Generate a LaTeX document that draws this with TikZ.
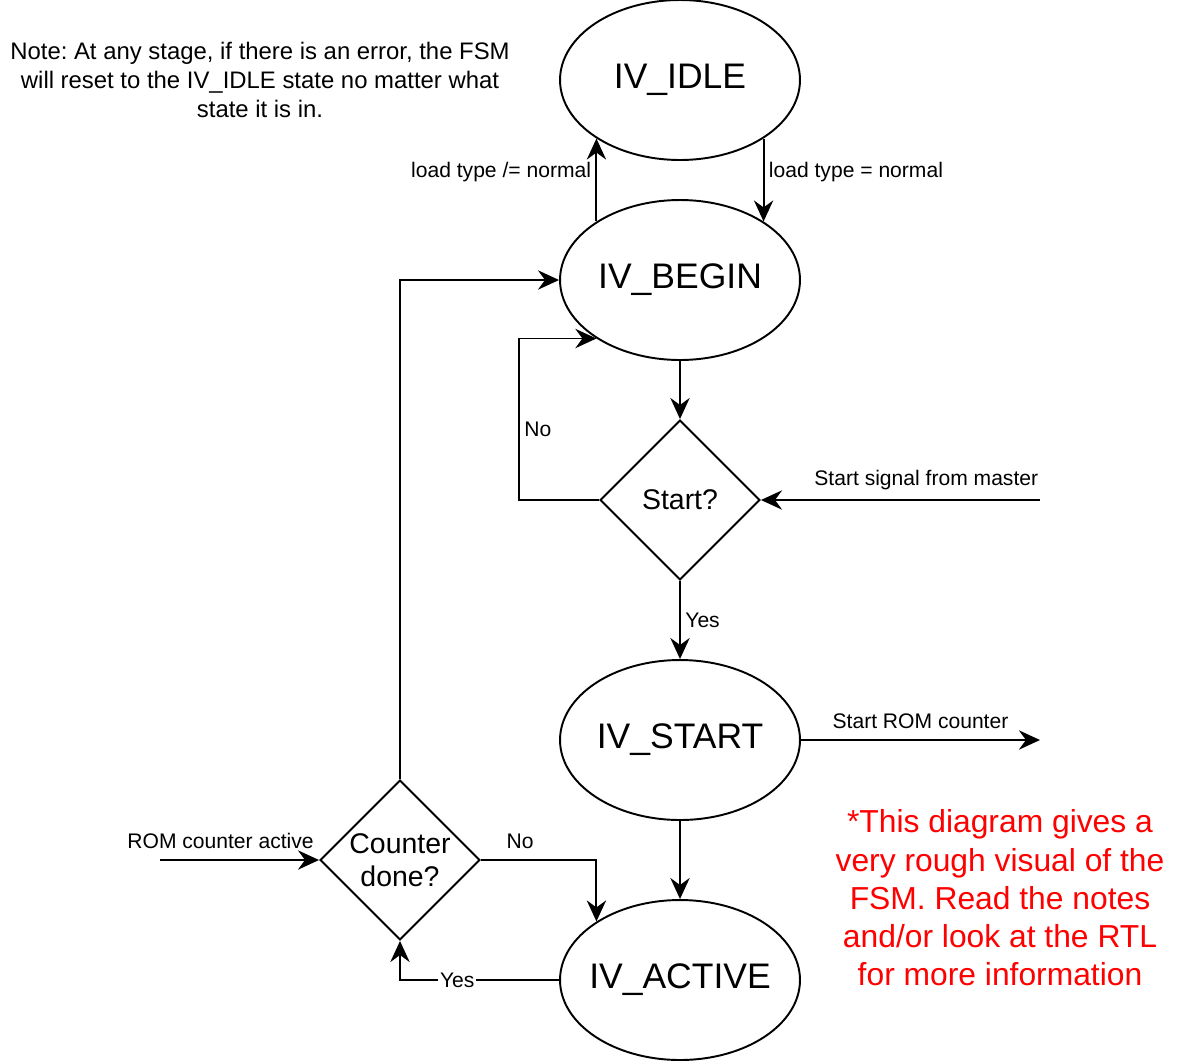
\documentclass[tikz,border=0pt]{standalone}
\usepackage{fontspec}
\setmainfont{Liberation Sans}
\usetikzlibrary{shapes.geometric,arrows.meta}
\frenchspacing

\begin{document}
\begin{tikzpicture}[x=0.02cm, y=-0.02cm, line width=1.1pt,
  state/.style={draw,ellipse,inner sep=0pt,inner xsep=-5pt,minimum width=4.8cm,minimum height=3.2cm,font=\fontsize{20.2}{24}\selectfont},
  decision/.style={draw,diamond,inner sep=0pt,minimum size=3.2cm,align=center,font=\fontsize{16.2}{18.7}\selectfont},
  lbl/.style={font=\fontsize{12}{14}\selectfont,inner sep=2.5pt},
  flow/.style={-{Stealth[length=12pt,width=11pt,inset=4pt]}}]
\useasboundingbox (0,0) rectangle (1182,1062);
\node[align=center,font=\fontsize{13.6}{16.4}\selectfont] (note) at (260,80) {Note: At any stage, if there is an error, the FSM\\will reset to the IV\_IDLE state no matter what\\state it is in.};
\node[state] (idle) at (680,80) {IV\_IDLE};
\node[state] (begin) at (680,280) {IV\_BEGIN};
\node[decision] (start) at (680,500) {Start?};
\node[state] (stbl) at (680,740) {IV\_START};
\node[state] (active) at (680,980) {IV\_ACTIVE};
\node[decision] (cnt) at (400,860) {Counter\\done?};
\node[align=center,text=red,font=\fontsize{18.1}{21.8}\selectfont] (rough) at (1000,898) {*This diagram gives a\\very rough visual of the\\FSM. Read the notes\\and/or look at the RTL\\for more information};
\coordinate (sigIn) at (1040,500);
\coordinate (romOut) at (1040,740);
\coordinate (romIn) at (160,860);
% idle <-> begin
\draw[flow] (idle.-35) -- (begin.35) node[lbl,pos=0.4,right] {load type = normal};
\draw[flow] (begin.145) -- (idle.-145) node[lbl,pos=0.6,left] {load type /= normal};
% start check
\draw[flow] (begin.south) -- (start.north);
\draw[flow] (start.west) -- ++(-80,0) |- node[lbl,pos=0.22,right] {No} (begin.215);
\draw[flow] (sigIn) -- (start.east) node[lbl,pos=0,anchor=south east,xshift=2pt,yshift=3pt] {Start signal from master};
\draw[flow] (start.south) -- (stbl.north) node[lbl,midway,right] {Yes};
\draw[flow] (stbl.east) -- (romOut) node[lbl,midway,above=3.5pt] {Start ROM counter};
\draw[flow] (stbl.south) -- (active.north);
% counter loop
\draw[flow] (romIn) -- (cnt.west) node[lbl,pos=1,anchor=south east,yshift=3.5pt] {ROM counter active};
\draw[flow] (cnt.east) -| node[lbl,pos=0.17,above=3.5pt] {No} (active.145);
\draw[flow] (active.west) -| node[lbl,pos=0.32,fill=white,inner sep=1pt] {Yes} (cnt.south);
\draw[flow] (cnt.north) |- (begin.west);
\end{tikzpicture}
\end{document}
